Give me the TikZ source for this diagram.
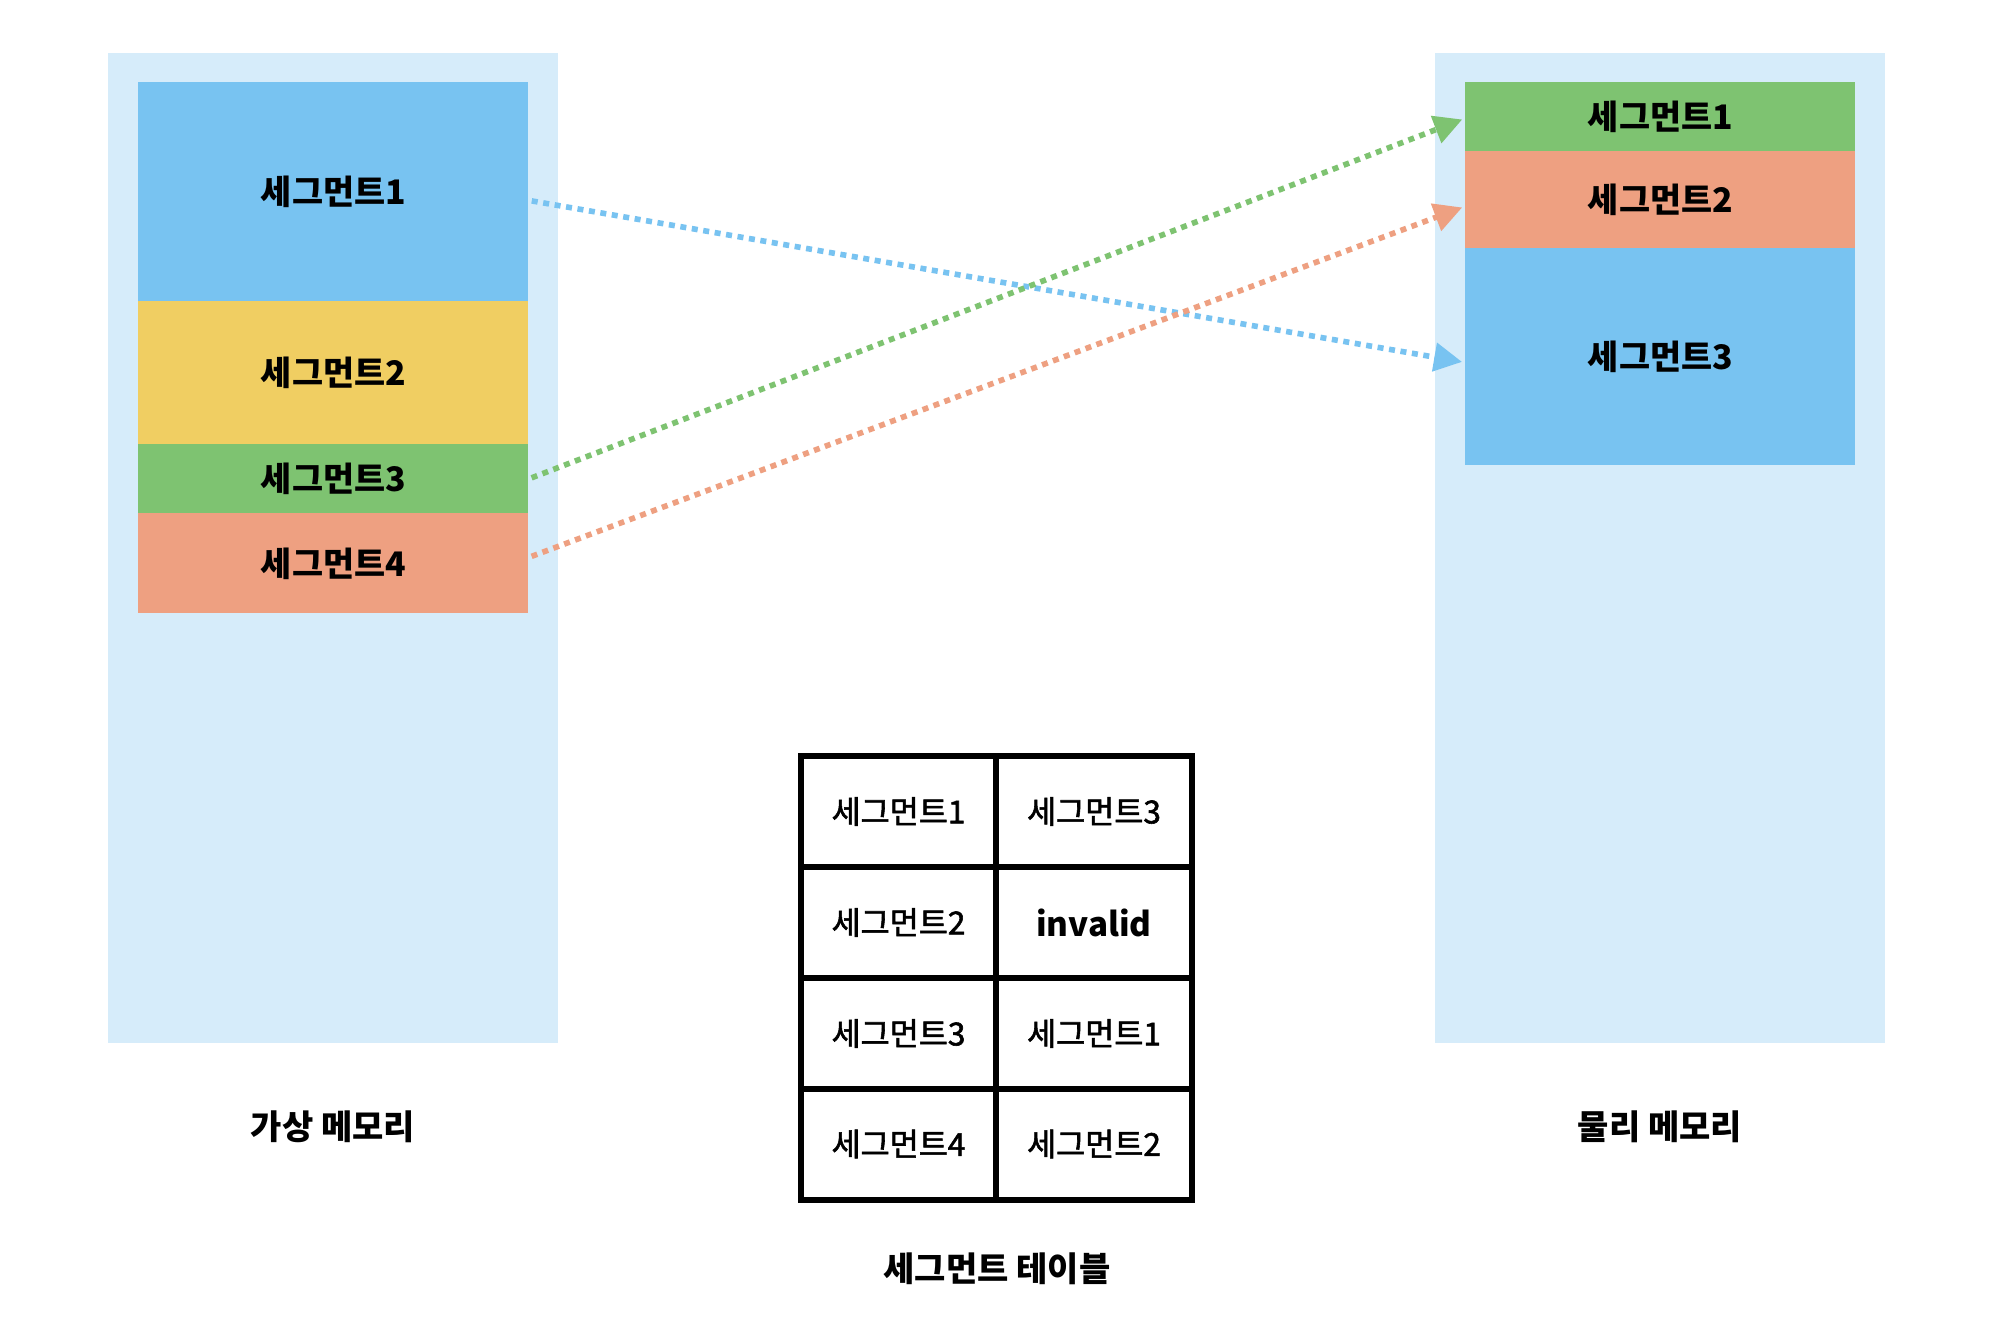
\documentclass[tikz,border=0pt]{standalone}
\usepackage{fontspec}
\setmainfont{Noto Sans CJK KR}
\newfontfamily\medfont{Noto Sans CJK KR}[FakeBold=1.8]
\usetikzlibrary{arrows.meta}
\definecolor{panelbg}{RGB}{214,236,250}
\definecolor{cblue}{RGB}{120,195,241}
\definecolor{cyellow}{RGB}{240,206,98}
\definecolor{cgreen}{RGB}{126,195,113}
\definecolor{csalmon}{RGB}{238,160,129}
\begin{document}
\begin{tikzpicture}[x=0.5pt,y=-0.5pt,
  panel/.style={fill=panelbg, draw=none, inner sep=0pt, anchor=north west, minimum width=225pt, minimum height=495pt},
  segbox/.style={draw=none, inner sep=0pt, anchor=north west, minimum width=195pt, font=\fontsize{16.9pt}{20pt}\selectfont\bfseries},
  lbl/.style={inner sep=0pt, font=\fontsize{17pt}{20pt}\selectfont\bfseries},
  cell/.style={draw=black, line width=3pt, inner sep=0pt, minimum height=55.5pt, font=\fontsize{15.8pt}{19pt}\selectfont\medfont},
  conn/.style={line width=2.8pt, dash pattern=on 3pt off 2.8pt, shorten <=1.5pt, shorten >=1.5pt, -{Triangle[length=14pt,width=14pt]}}
]
\useasboundingbox[fill=white] (0,0) rectangle (1996,1340);

% panels
\node[panel] (VM) at (108,53) {};
\node[panel] (PM) at (1435,53) {};

% virtual memory segments
\node[segbox, fill=cblue, minimum height=109.5pt] (L1) at (138,82) {세그먼트1};
\node[segbox, fill=cyellow, minimum height=71.5pt] (L2) at (138,301) {세그먼트2};
\node[segbox, fill=cgreen, minimum height=34.5pt] (L3) at (138,444) {세그먼트3};
\node[segbox, fill=csalmon, minimum height=50pt] (L4) at (138,513) {세그먼트4};

% physical memory segments
\node[segbox, fill=cgreen, minimum height=34.5pt] (R1) at (1465,82) {세그먼트1};
\node[segbox, fill=csalmon, minimum height=48.5pt] (R2) at (1465,151) {세그먼트2};
\node[segbox, fill=cblue, minimum height=108.5pt] (R3) at (1465,248) {세그먼트3};

% labels
\node[lbl] (VMlabel) at (333,1127) {가상 메모리};
\node[lbl] (PMlabel) at (1660,1127) {물리 메모리};

% segment table
\node[cell, minimum width=97.5pt] (T11) at (898.5,811.5) {세그먼트1};
\node[cell, minimum width=98pt] (T12) at (1094,811.5) {세그먼트3};
\node[cell, minimum width=97.5pt] (T21) at (898.5,922.5) {세그먼트2};
\node[cell, minimum width=98pt, font=\fontsize{16.6pt}{20pt}\selectfont\bfseries] (T22) at (1094,922.5) {invalid};
\node[cell, minimum width=97.5pt] (T31) at (898.5,1033.5) {세그먼트3};
\node[cell, minimum width=98pt] (T32) at (1094,1033.5) {세그먼트1};
\node[cell, minimum width=97.5pt] (T41) at (898.5,1144) {세그먼트4};
\node[cell, minimum width=98pt] (T42) at (1094,1144) {세그먼트2};
\node[lbl] (STlabel) at (997,1269) {세그먼트 테이블};

% connectors
\draw[conn, cblue] ([yshift=-4.25pt]L1.east) -- ([yshift=-2.75pt]R3.west);
\draw[conn, cgreen] (L3.east) -- ([yshift=-0.75pt]R1.west);
\draw[conn, csalmon] ([yshift=3pt]L4.east) -- ([yshift=-3.25pt]R2.west);
\end{tikzpicture}
\end{document}
